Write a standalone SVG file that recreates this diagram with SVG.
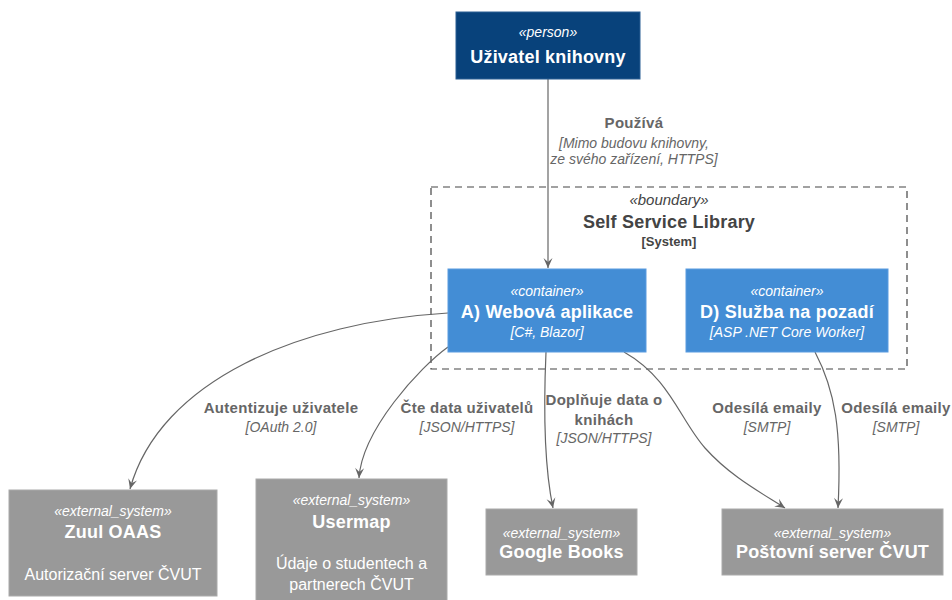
<svg xmlns="http://www.w3.org/2000/svg" width="952" height="600" viewBox="0 0 952 600">
<style>
text{font-family:"Liberation Sans",Arial,sans-serif;text-anchor:middle}
.st{font-size:14px;font-style:italic;fill:#fff}
.ti{font-size:18px;font-weight:bold;fill:#fff;letter-spacing:0.2px}
.te{font-size:14px;font-style:italic;fill:#fff}
.de{font-size:16px;fill:#fff}
.rl{font-size:15px;font-weight:bold;fill:#666;letter-spacing:0.3px}
.rt{font-size:14px;font-style:italic;fill:#666}
.edge{fill:none;stroke:#666;stroke-width:1.2}
</style>
<defs>
<marker id="arr" viewBox="-11 -5 12 10" refX="0" refY="0" markerWidth="12" markerHeight="10" markerUnits="userSpaceOnUse" orient="auto">
<path d="M0,0 L-10,-4.5 L-6,0 L-10,4.5 Z" fill="#666"/>
</marker>
</defs>
<rect width="952" height="600" fill="#fff"/>
<g id="boundary">
<rect x="431" y="187" width="476" height="182" fill="none" stroke="#444" stroke-width="1.2" stroke-dasharray="7,5"/>
<text x="669" y="205" style="font-size:15px;font-style:italic;fill:#444">«boundary»</text>
<text x="669" y="228" style="font-size:18px;font-weight:bold;fill:#444;letter-spacing:0.2px">Self Service Library</text>
<text x="669" y="246" style="font-size:13px;font-weight:bold;fill:#444">[System]</text>
</g>
<g id="connectors">
<path class="edge" d="M548,79 L548,268" marker-end="url(#arr)"/>
<path class="edge" d="M448,313 C300,322 160,380 130,489" marker-end="url(#arr)"/>
<path class="edge" d="M448,347 C420,367 362,430 359,478" marker-end="url(#arr)"/>
<path class="edge" d="M546,352 C543,420 545,470 553,508" marker-end="url(#arr)"/>
<path class="edge" d="M624,352 C670,378 680,420 705,448 C730,476 760,492 785,508" marker-end="url(#arr)"/>
<path class="edge" d="M815,352 C835,390 842,430 838,508" marker-end="url(#arr)"/>
<text class="rl" x="634" y="128">Používá</text>
<text class="rt" x="634" y="148">[Mimo budovu knihovny,</text>
<text class="rt" x="634" y="164">ze svého zařízení, HTTPS]</text>
<text class="rl" x="281" y="413">Autentizuje uživatele</text>
<text class="rt" x="281" y="432">[OAuth 2.0]</text>
<text class="rl" x="467" y="413">Čte data uživatelů</text>
<text class="rt" x="467" y="432">[JSON/HTTPS]</text>
<text class="rl" x="604" y="405">Doplňuje data o</text>
<text class="rl" x="604" y="425">knihách</text>
<text class="rt" x="604" y="443">[JSON/HTTPS]</text>
<text class="rl" x="767" y="413">Odesílá emaily</text>
<text class="rt" x="767" y="432">[SMTP]</text>
<text class="rl" x="896" y="413">Odesílá emaily</text>
<text class="rt" x="896" y="432">[SMTP]</text>
</g>
<g id="person">
<rect x="456" y="12" width="184" height="67" fill="#08427B" stroke="#2a5f94" stroke-width="1"/>
<text class="st" x="548" y="37">«person»</text>
<text class="ti" x="548" y="63">Uživatel knihovny</text>
</g>
<g id="webapp">
<rect x="448" y="269" width="198" height="83" fill="#438DD5" stroke="#5a9be0" stroke-width="1"/>
<text class="st" x="547" y="296">«container»</text>
<text class="ti" x="547" y="318">A) Webová aplikace</text>
<text class="te" x="547" y="337">[C#, Blazor]</text>
</g>
<g id="worker">
<rect x="686" y="269" width="202" height="83" fill="#438DD5" stroke="#5a9be0" stroke-width="1"/>
<text class="st" x="787" y="296">«container»</text>
<text class="ti" x="787" y="318">D) Služba na pozadí</text>
<text class="te" x="787" y="337">[ASP .NET Core Worker]</text>
</g>
<g id="zuul">
<rect x="9" y="490" width="208" height="106" fill="#999999" stroke="#aaa" stroke-width="1"/>
<text class="st" x="113" y="516">«external_system»</text>
<text class="ti" x="113" y="538">Zuul OAAS</text>
<text class="de" x="113" y="580">Autorizační server ČVUT</text>
</g>
<g id="usermap">
<rect x="256" y="479" width="191" height="130" fill="#999999" stroke="#aaa" stroke-width="1"/>
<text class="st" x="351.5" y="505">«external_system»</text>
<text class="ti" x="351.5" y="528">Usermap</text>
<text class="de" x="351.5" y="569">Údaje o studentech a</text>
<text class="de" x="351.5" y="590">partnerech ČVUT</text>
</g>
<g id="google">
<rect x="486" y="509" width="151" height="66" fill="#999999" stroke="#aaa" stroke-width="1"/>
<text class="st" x="561.5" y="538">«external_system»</text>
<text class="ti" x="561.5" y="558">Google Books</text>
</g>
<g id="mail">
<rect x="722" y="509" width="221" height="66" fill="#999999" stroke="#aaa" stroke-width="1"/>
<text class="st" x="832.5" y="538">«external_system»</text>
<text class="ti" x="832.5" y="558">Poštovní server ČVUT</text>
</g>
</svg>
